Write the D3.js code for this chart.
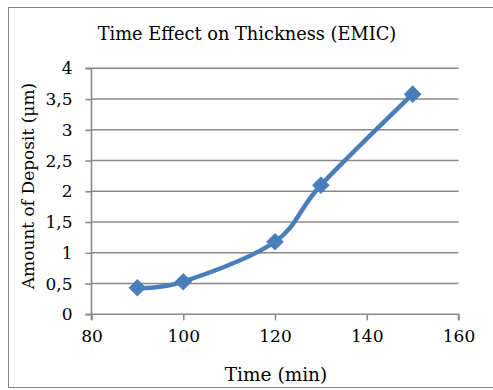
<!DOCTYPE html>
<html><head><meta charset="utf-8">
<script src="https://cdn.jsdelivr.net/npm/d3@7/dist/d3.min.js"></script>
<style>body{margin:0;background:#fff}svg{display:block}</style>
</head><body>
<script>
const times = [90, 100, 120, 130, 150];
const deposit = [0.43, 0.53, 1.18, 2.10, 3.58];
const xTicks = [80, 100, 120, 140, 160];
const yTicks = [0, 0.5, 1, 1.5, 2, 2.5, 3, 3.5, 4];
const title = "Time Effect on Thickness (EMIC)";
const xTitle = "Time (min)";
const yTitle = "Amount of Deposit (μm)";

const W = 493, H = 390;
const font = "'DejaVu Serif', serif";
const svg = d3.select("body").append("svg").attr("width", W).attr("height", H);
svg.append("rect").attr("x", 8.5).attr("y", 7.5).attr("width", 490).attr("height", 380)
  .attr("fill", "#fff").attr("stroke", "#868686").attr("stroke-width", 1);

const x = d3.scaleLinear().domain([80, 160]).range([91.5, 458.5]);
const y = d3.scaleLinear().domain([0, 4]).range([314.3, 68.3]);
const grid = "#898989";

// gridlines
svg.append("g").selectAll("line").data(yTicks.filter(d => d > 0)).join("line")
  .attr("x1", x(80)).attr("x2", x(160)).attr("y1", d => y(d)).attr("y2", d => y(d))
  .attr("stroke", grid).attr("stroke-width", 1.6);

const fmt = d => String(d).replace(".", ",");
const yAxis = svg.append("g").attr("transform", `translate(${x(80)},0)`)
  .call(d3.axisLeft(y).tickValues(yTicks).tickFormat(fmt).tickSize(6).tickPadding(13));
const xAxis = svg.append("g").attr("transform", `translate(0,${y(0)})`)
  .call(d3.axisBottom(x).tickValues(xTicks).tickFormat(d => d).tickSize(6).tickPadding(10));
[yAxis, xAxis].forEach(a => {
  a.select(".domain").attr("stroke", grid).attr("stroke-width", 1.6);
  a.selectAll(".tick line").attr("stroke", grid).attr("stroke-width", 1.6);
  a.selectAll("text").attr("font-family", font).attr("font-size", 17).attr("fill", "#000");
});
xAxis.select(".domain").attr("d", `M${x(80)},6V0H${x(160)}V6`);
yAxis.select(".domain").attr("d", `M-6,${y(4)}H0V${y(0)}H-6`);

const pts = times.map((t, i) => [x(t), y(deposit[i])]);
svg.append("path").attr("d", d3.line().curve(d3.curveCatmullRom.alpha(0))(pts))
  .attr("fill", "none").attr("stroke", "#4a7ebb").attr("stroke-width", 4.5)
  .attr("stroke-linejoin", "round").attr("stroke-linecap", "round");
svg.append("g").selectAll("path").data(pts).join("path")
  .attr("d", d3.symbol(d3.symbolSquare, 130))
  .attr("transform", d => `translate(${d[0]},${d[1]}) rotate(45)`)
  .attr("fill", "#4a7ebb").attr("stroke", "#4a7ebb").attr("stroke-width", 1);

svg.append("text").attr("x", 247).attr("y", 40).attr("text-anchor", "middle")
  .attr("font-family", font).attr("font-size", 17.8).text(title);
svg.append("text").attr("x", 276).attr("y", 381).attr("text-anchor", "middle")
  .attr("font-family", font).attr("font-size", 18.5).text(xTitle);
svg.append("text").attr("transform", `translate(34,186) rotate(-90)`)
  .attr("text-anchor", "middle").attr("font-family", font).attr("font-size", 17).text(yTitle);
</script>
</body></html>
